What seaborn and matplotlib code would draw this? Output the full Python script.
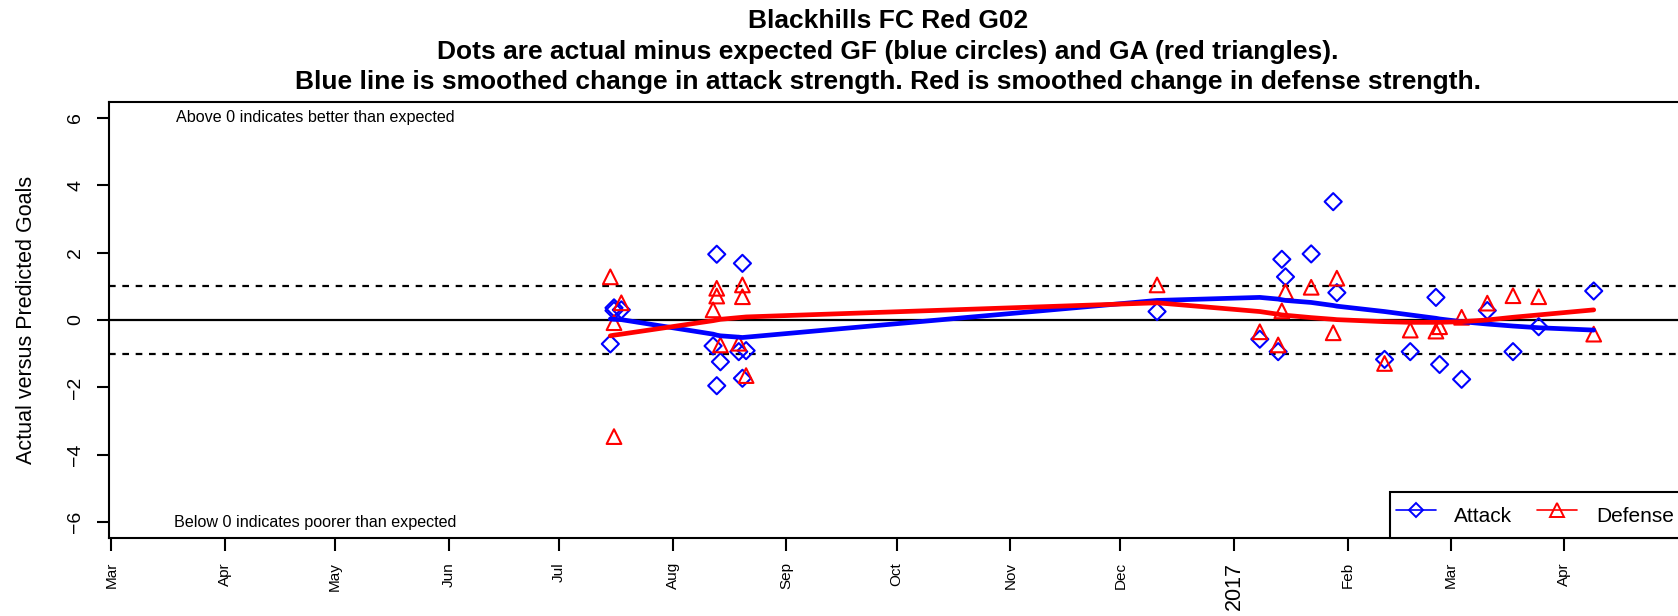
import matplotlib
matplotlib.use("Agg")
import matplotlib.pyplot as plt
import matplotlib.dates as mdates
from matplotlib.lines import Line2D
import seaborn as sns
import pandas as pd

sns.set_style("ticks")
plt.rcParams['font.family'] = ['Liberation Sans', 'DejaVu Sans']
plt.rcParams['text.color'] = 'black'
plt.rcParams['axes.labelcolor'] = 'black'

# one row per game: actual minus expected goals for and against
game_dates = ["2016-07-15", "2016-07-16", "2016-07-16", "2016-07-18",
              "2016-08-12", "2016-08-13", "2016-08-13", "2016-08-14",
              "2016-08-19", "2016-08-20", "2016-08-20", "2016-08-21",
              "2016-12-11", "2017-01-08", "2017-01-13", "2017-01-14",
              "2017-01-15", "2017-01-22", "2017-01-28", "2017-01-29",
              "2017-02-11", "2017-02-18", "2017-02-25", "2017-02-26",
              "2017-03-04", "2017-03-11", "2017-03-18", "2017-03-25",
              "2017-04-09"]
attack_diff = [-0.71, 0.36, 0.28, 0.30,
               -0.77, 1.95, -1.95, -1.24,
               -0.94, 1.68, -1.73, -0.91,
               0.25, -0.57, -0.94, 1.80,
               1.28, 1.96, 3.51, 0.81,
               -1.17, -0.94, 0.67, -1.32,
               -1.76, 0.28, -0.94, -0.20,
               0.86]
defense_diff = [1.28, -0.08, -3.46, 0.51,
                0.30, 0.94, 0.71, -0.74,
                -0.69, 1.04, 0.69, -1.65,
                1.04, -0.35, -0.74, 0.27,
                0.84, 0.97, -0.38, 1.24,
                -1.29, -0.30, -0.33, -0.20,
                0.08, 0.50, 0.72, 0.69,
                -0.42]

# smoothed strength change, one value per game day
smooth_dates = ["2016-07-15", "2016-07-16", "2016-07-18", "2016-08-12",
                "2016-08-13", "2016-08-14", "2016-08-19", "2016-08-20",
                "2016-08-21", "2016-12-11", "2017-01-08", "2017-01-13",
                "2017-01-14", "2017-01-15", "2017-01-22", "2017-01-28",
                "2017-01-29", "2017-02-11", "2017-02-18", "2017-02-25",
                "2017-02-26", "2017-03-04", "2017-03-11", "2017-03-18",
                "2017-03-25", "2017-04-09"]
attack_smooth = [0.03, 0.02, 0.01, -0.42, -0.45, -0.47, -0.51, -0.52,
                 -0.51, 0.58, 0.67, 0.62, 0.60, 0.58, 0.52, 0.43,
                 0.41, 0.25, 0.15, 0.05, 0.03, -0.05, -0.12, -0.18,
                 -0.23, -0.30]
defense_smooth = [-0.47, -0.45, -0.42, -0.02, 0.00, 0.02, 0.07, 0.08,
                  0.09, 0.51, 0.25, 0.17, 0.15, 0.14, 0.07, 0.02,
                  0.01, -0.05, -0.07, -0.07, -0.07, -0.05, 0.00, 0.08,
                  0.15, 0.30]

month_ticks = pd.date_range("2016-03-01", "2017-04-01", freq="MS")
month_labels = ["Mar", "Apr", "May", "Jun", "Jul", "Aug", "Sep", "Oct",
                "Nov", "Dec", "2017", "Feb", "Mar", "Apr"]
y_ticks = [-6, -4, -2, 0, 2, 4, 6]

games = pd.DataFrame({"date": pd.to_datetime(game_dates),
                      "attack": attack_diff, "defense": defense_diff})
smooth = pd.DataFrame({"date": pd.to_datetime(smooth_dates),
                       "attack": attack_smooth, "defense": defense_smooth})

fig = plt.figure(figsize=(16.78, 6.16), dpi=100)
# right side of the plot box sits just past the edge of the picture
ax = fig.add_axes([0.06496, 0.1260, 0.9362, 0.7091])

ax.axhline(0, color="black", lw=1.6, zorder=1)
ax.axhline(1, color="black", lw=1.6, ls=(0, (3, 3)), zorder=1)
ax.axhline(-1, color="black", lw=1.6, ls=(0, (3, 3)), zorder=1)

sns.scatterplot(data=games, x="date", y="attack", marker="D", s=76,
                facecolor="none", edgecolor="blue", linewidth=1.5, ax=ax, zorder=3)
sns.scatterplot(data=games, x="date", y="defense", marker="^", s=112,
                facecolor="none", edgecolor="red", linewidth=1.5, ax=ax, zorder=3)
sns.lineplot(data=smooth, x="date", y="attack", color="blue", lw=3.4,
             estimator=None, ax=ax, zorder=4)
sns.lineplot(data=smooth, x="date", y="defense", color="red", lw=3.4,
             estimator=None, ax=ax, zorder=4)

ax.set_xlim(pd.Timestamp("2016-02-29 09:00"), pd.Timestamp("2017-05-02 12:00"))
ax.set_ylim(-6.48, 6.48)

ax.set_xticks(month_ticks)
ax.set_xticklabels(month_labels, rotation=90, fontsize=11)
for lab in ax.get_xticklabels():
    if lab.get_text() == "2017":
        lab.set_fontsize(15.5)
ax.set_yticks(y_ticks)
ax.set_yticklabels([str(v).replace("-", "\u2212") for v in y_ticks],
                   rotation=90, va="center", fontsize=14)
ax.tick_params(axis="both", length=9, width=1.5, color="black", labelcolor="black")
ax.tick_params(axis="x", pad=8)
ax.tick_params(axis="y", pad=9)
for sp in ax.spines.values():
    sp.set_linewidth(1.5)
    sp.set_color("black")

ax.set_xlabel("")
ax.set_ylabel("Actual versus Predicted Goals", fontsize=15.5)
ax.yaxis.set_label_coords(-0.046, 0.5)

note_x = mdates.date2num(pd.Timestamp("2016-04-25 12:00"))
ax.text(note_x, 6, "Above 0 indicates better than expected",
        ha="center", va="center", fontsize=11.6)
ax.text(note_x, -6, "Below 0 indicates poorer than expected",
        ha="center", va="center", fontsize=11.6)

handles = [Line2D([], [], color="blue", lw=1.2, marker="D", markersize=7.5,
                  mfc="none", mec="blue", mew=1.4),
           Line2D([], [], color="red", lw=1.2, marker="^", markersize=10,
                  mfc="none", mec="red", mew=1.4)]
leg = ax.legend(handles, ["Attack", "Defense"], loc="lower right",
                bbox_to_anchor=(1, 0), borderaxespad=0, ncol=2, fontsize=15,
                handlelength=1.9, handletextpad=0.9, columnspacing=1.2,
                borderpad=0.3, handleheight=2.1, fancybox=False,
                framealpha=1, edgecolor="black")
leg.get_frame().set_linewidth(1.5)

title_x = 888 / 1678
title_size = 19
fig.text(title_x, 1 - 21 / 616, "Blackhills FC Red G02",
         ha="center", va="center", fontsize=title_size, fontweight="bold")
fig.text(title_x, 1 - 52 / 616,
         "Dots are actual minus expected GF (blue circles) and GA (red triangles).",
         ha="center", va="center", fontsize=title_size, fontweight="bold")
fig.text(title_x, 1 - 82 / 616,
         "Blue line is smoothed change in attack strength. Red is smoothed change in defense strength.",
         ha="center", va="center", fontsize=title_size, fontweight="bold")

fig.savefig("out.png", dpi=100)
